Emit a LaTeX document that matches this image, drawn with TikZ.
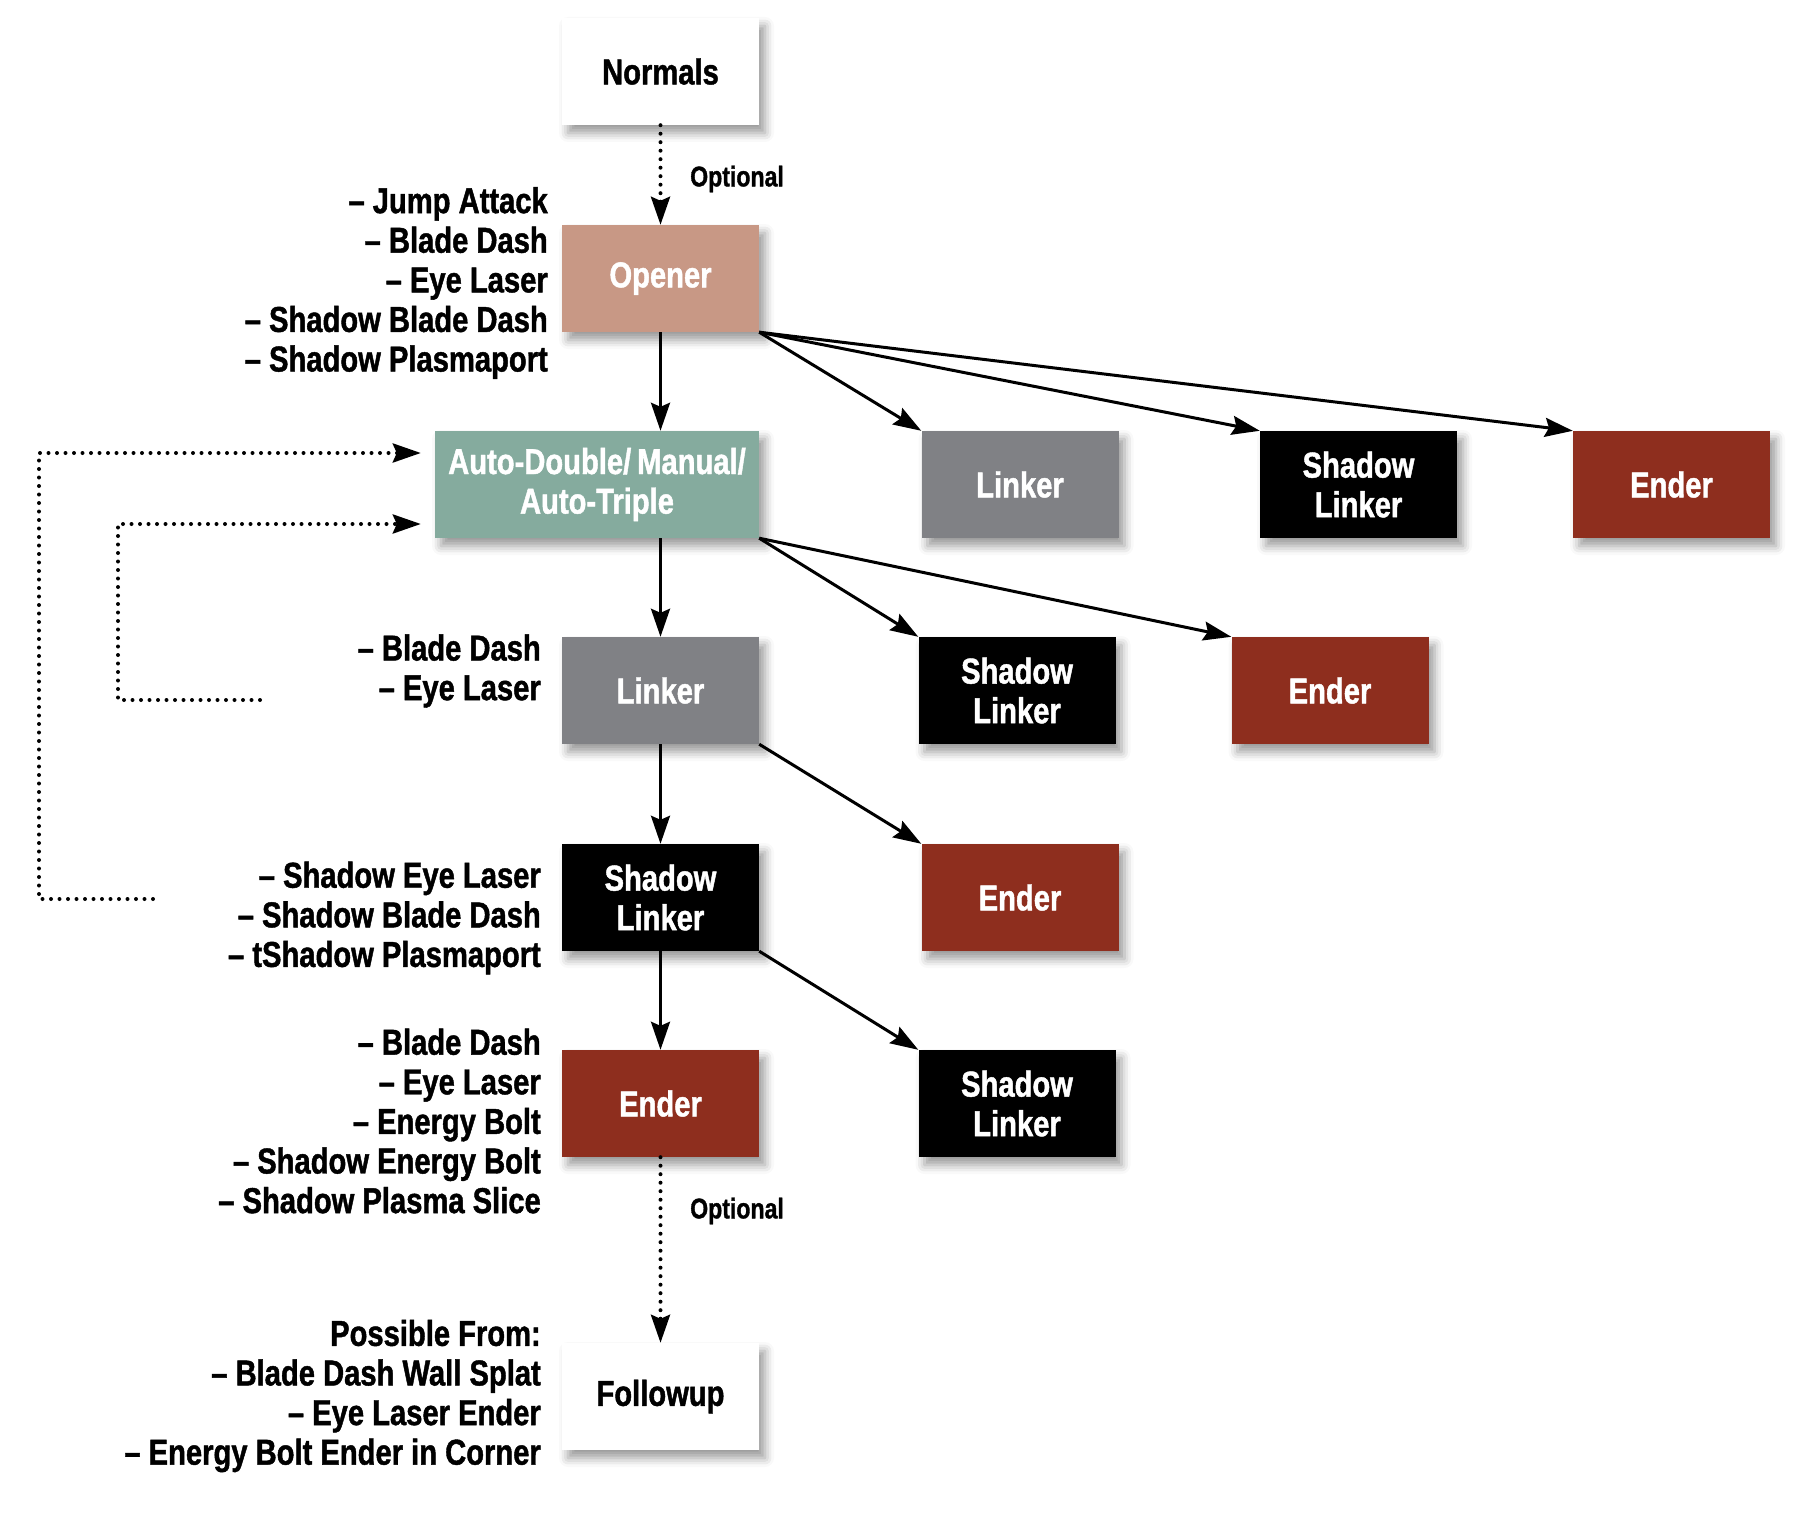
\documentclass[tikz,border=0pt]{standalone}
\usepackage{fontspec}
\setmainfont{Liberation Sans}[FakeStretch=0.81,FakeBold=1.2]
\usetikzlibrary{arrows.meta,shadows.blur}
\definecolor{cOpener}{RGB}{200,152,133}
\definecolor{cAuto}{RGB}{133,171,158}
\definecolor{cLinker}{RGB}{128,129,133}
\definecolor{cEnder}{RGB}{142,46,30}
\tikzset{
  box/.style={rectangle, minimum width=197pt, minimum height=107pt, inner sep=0pt, align=center,
    font=\fontsize{36}{39.6}\selectfont\bfseries, text=white,
    blur shadow={shadow xshift=6pt, shadow yshift=-8pt, shadow blur radius=9pt, shadow opacity=40}},
  whitebox/.style={box, fill=white, text=black},
  openbox/.style={box, fill=cOpener},
  autobox/.style={box, fill=cAuto, minimum width=324pt},
  linkbox/.style={box, fill=cLinker},
  shadbox/.style={box, fill=black},
  endbox/.style={box, fill=cEnder},
  lbl/.style={align=right, anchor=east, inner sep=0pt, font=\fontsize{36}{39.6}\selectfont\bfseries},
  opt/.style={anchor=west, inner sep=0pt, font=\fontsize{28.5}{30}\selectfont\bfseries},
  arr/.style={line width=3pt, -{Stealth[length=28pt,width=19pt,inset=4pt]}},
  dotarr/.style={arr, line width=4pt, dash pattern=on 0pt off 8.5pt, line cap=round},
}
\begin{document}
\begin{tikzpicture}[x=1pt,y=-1pt]
\useasboundingbox (0,0) rectangle (1798,1522);
% boxes
\node[whitebox] (normals) at (660.5,71.5) {Normals};
\node[openbox] (opener) at (660.5,278.5) {Opener};
\node[autobox] (auto) at (597,484.5) {Auto-Double/\,Manual/\\Auto-Triple};
\node[linkbox] (lk1) at (1020,484.5) {Linker};
\node[shadbox] (sl1) at (1358.5,484.5) {Shadow\\Linker};
\node[endbox] (en1) at (1671.5,484.5) {Ender};
\node[linkbox] (lk) at (660.5,690.5) {Linker};
\node[shadbox] (sl2) at (1017,690.5) {Shadow\\Linker};
\node[endbox] (en2) at (1330,690.5) {Ender};
\node[shadbox] (sl) at (660.5,897.5) {Shadow\\Linker};
\node[endbox] (en3) at (1020,897.5) {Ender};
\node[endbox] (en) at (660.5,1103.5) {Ender};
\node[shadbox] (sl4) at (1017,1103.5) {Shadow\\Linker};
\node[whitebox] (fu) at (660.5,1396.5) {Followup};
% labels
\node[lbl] (lopener) at (548,283) {– Jump Attack\\– Blade Dash\\– Eye Laser\\– Shadow Blade Dash\\– Shadow Plasmaport};
\node[lbl] (llinker) at (541,671) {– Blade Dash\\– Eye Laser};
\node[lbl] (lshadow) at (541,918) {– Shadow Eye Laser\\– Shadow Blade Dash\\– tShadow Plasmaport};
\node[lbl] (lender) at (541,1121) {– Blade Dash\\– Eye Laser\\– Energy Bolt\\– Shadow Energy Bolt\\– Shadow Plasma Slice};
\node[lbl] (lfollow) at (541,1396) {Possible From:\\– Blade Dash Wall Splat\\– Eye Laser Ender\\– Energy Bolt Ender in Corner};
\node[opt] (opt1) at (690,179) {Optional};
\node[opt] (opt2) at (690,1211) {Optional};
% connectors
\draw[dotarr] (normals.south) -- (opener.north);
\draw[arr] (opener.south) -- (opener.south |- auto.north);
\draw[arr] (opener.south east) -- (lk1.north west);
\draw[arr] (opener.south east) -- (sl1.north west);
\draw[arr] (opener.south east) -- (en1.north west);
\draw[arr] (lk.north |- auto.south) -- (lk.north);
\draw[arr] (auto.south east) -- (sl2.north west);
\draw[arr] (auto.south east) -- (en2.north west);
\draw[arr] (lk.south) -- (sl.north);
\draw[arr] (lk.south east) -- (en3.north west);
\draw[arr] (sl.south) -- (en.north);
\draw[arr] (sl.south east) -- (sl4.north west);
\draw[dotarr] (en.south) -- (fu.north);
% loops
\coordinate (o1) at (153,899);
\coordinate (o2) at (39,899);
\coordinate (o3) at (39,453);
\coordinate (i1) at (260,700);
\coordinate (i2) at (118,700);
\coordinate (i3) at (118,524);
\draw[dotarr, shorten >=14pt] (o1) -- (o2) -- (o3) -- (auto.west |- o3);
\draw[dotarr, shorten >=14pt] (i1) -- (i2) -- (i3) -- (auto.west |- i3);
\end{tikzpicture}
\end{document}
